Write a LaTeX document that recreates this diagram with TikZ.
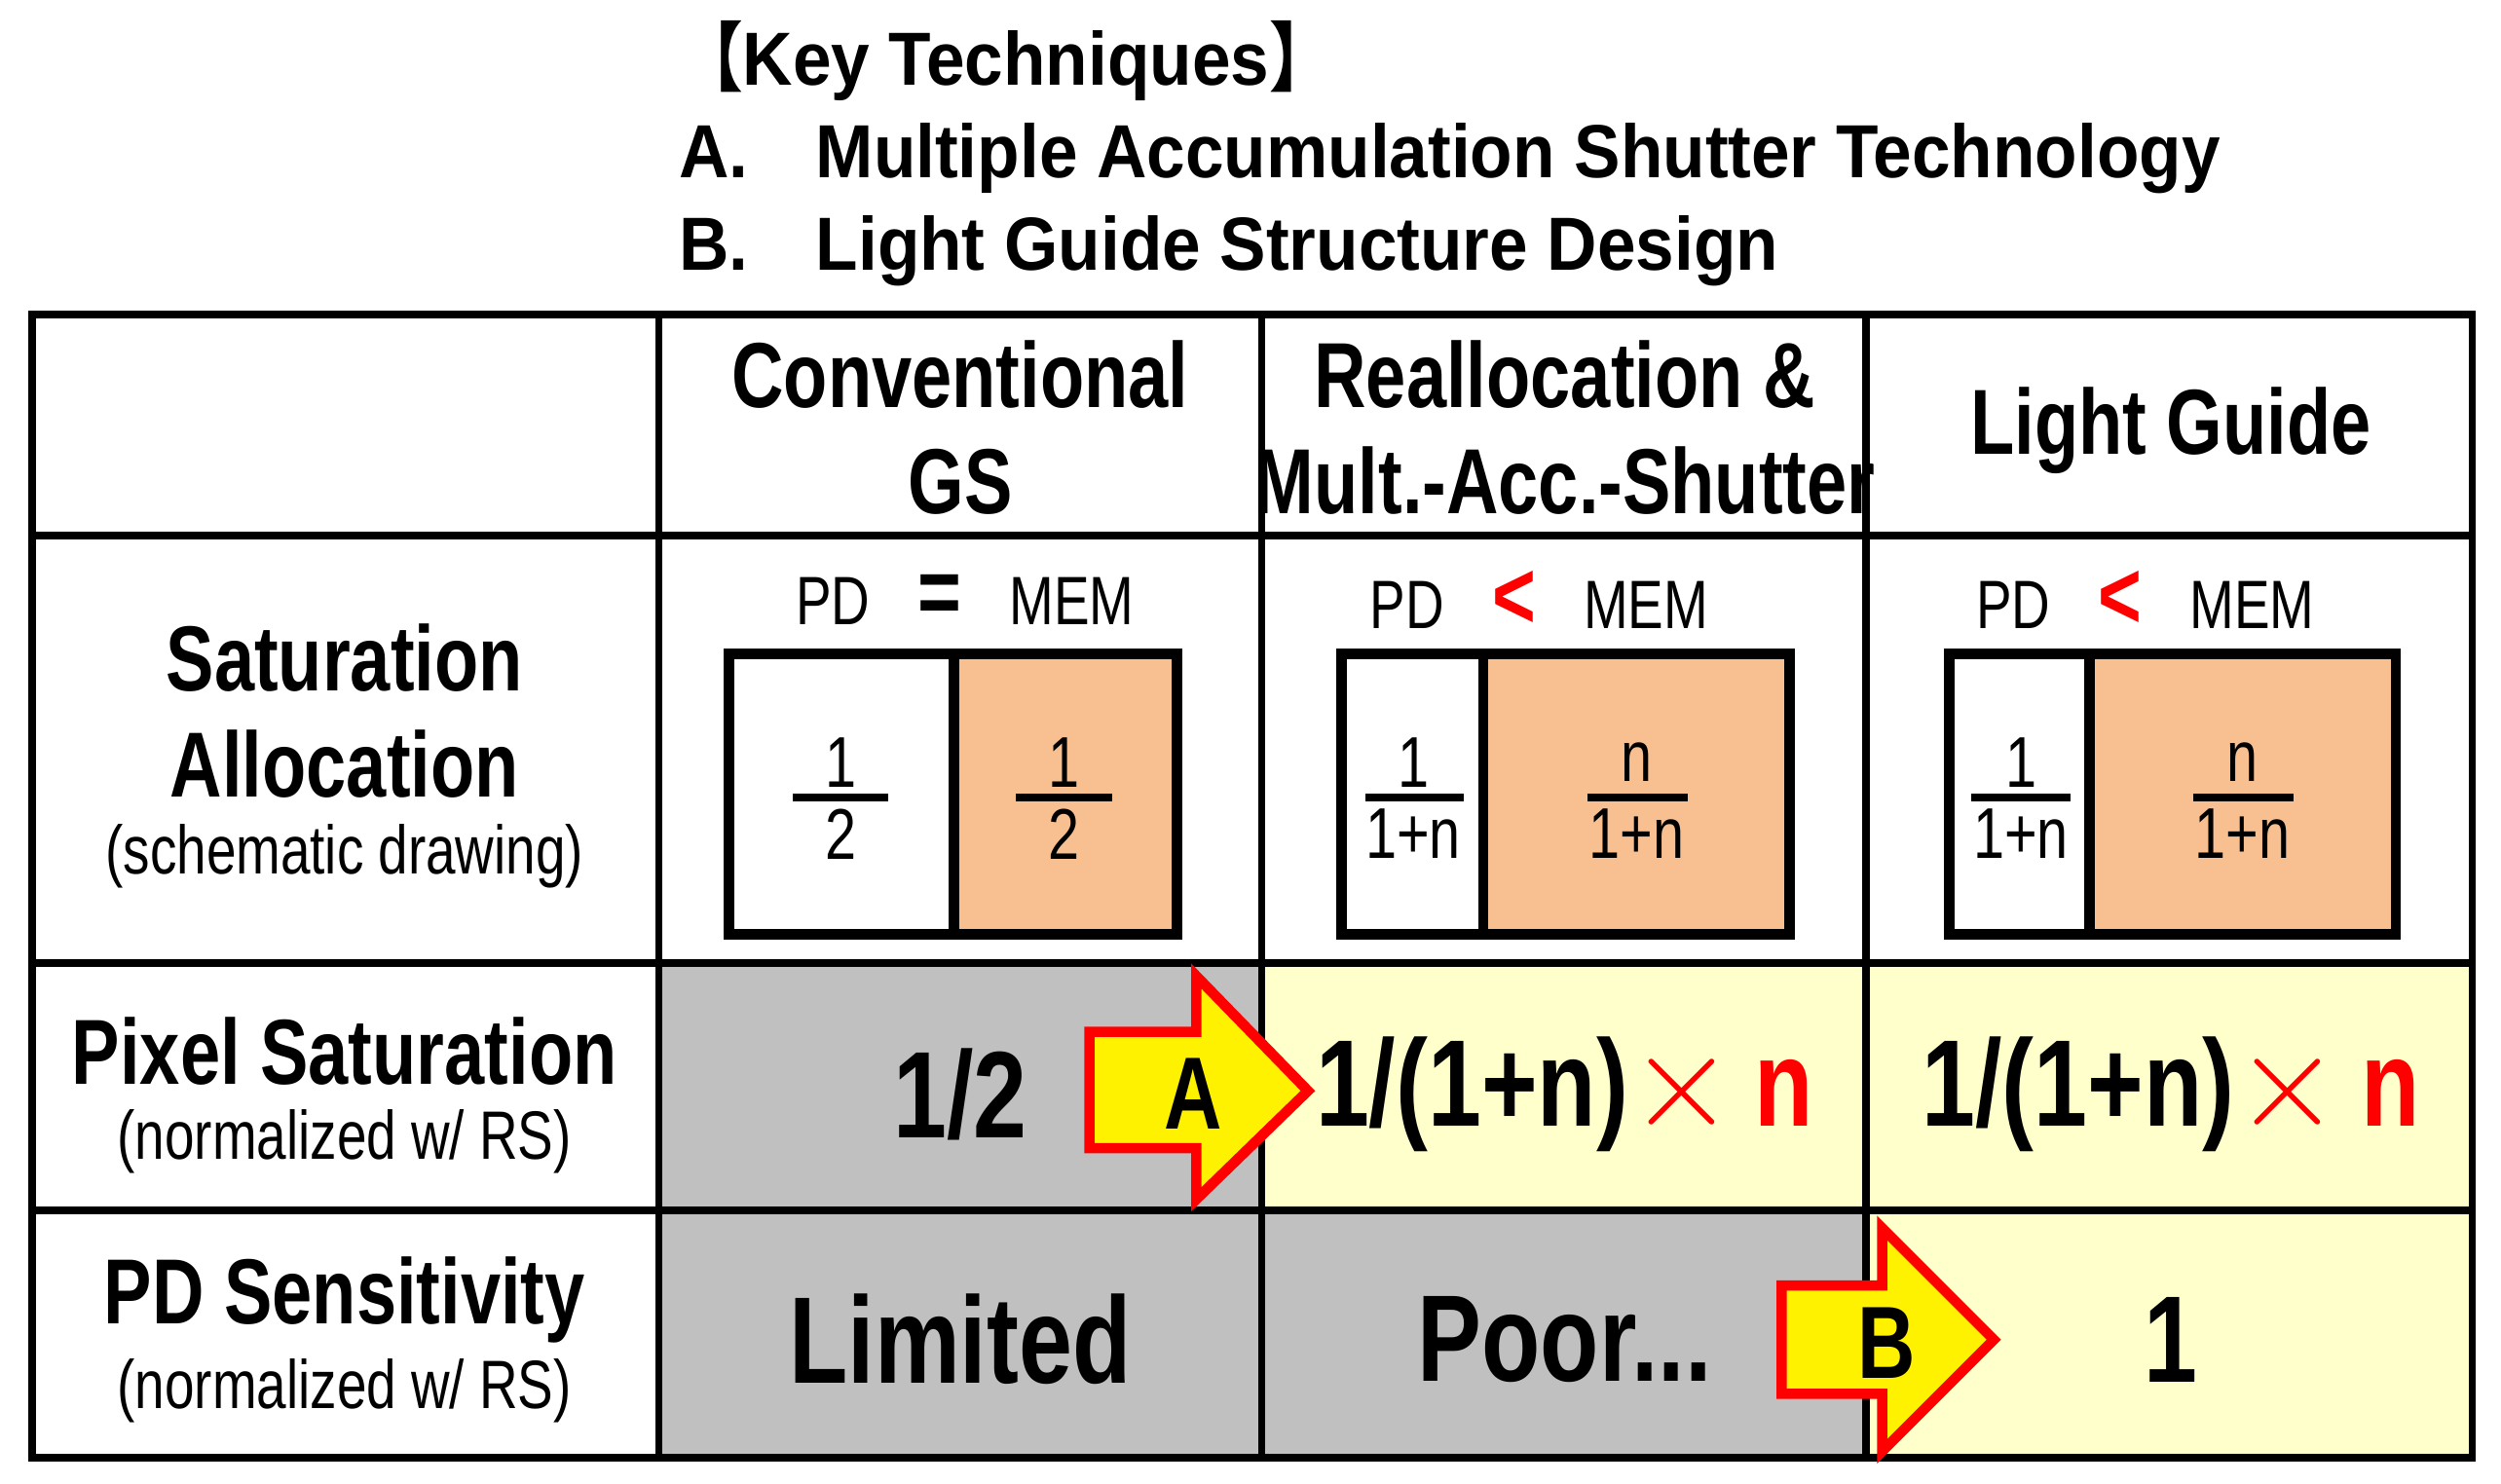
\documentclass[tikz,border=0pt]{standalone}
\usepackage{fontspec}
\setmainfont{Liberation Sans}[FakeStretch=0.78]
\newfontfamily\cjk{Noto Sans CJK JP}[FakeStretch=0.85]
\newfontfamily\wide{Liberation Sans}[FakeStretch=0.92]
\usetikzlibrary{positioning}
\definecolor{mem}{RGB}{248,192,144}
\definecolor{grayc}{RGB}{192,192,192}
\definecolor{yel}{RGB}{255,255,204}
\tikzset{
  grid/.style ={line width=2.2pt},
  head/.style ={font=\bfseries\fontsize{27}{31}\selectfont, align=center},
  lab/.style  ={font=\fontsize{20}{24}\selectfont, align=center},
  big/.style  ={font=\bfseries\fontsize{36}{40}\selectfont},
  frac/.style ={font=\fontsize{21}{24}\selectfont, inner sep=0pt},
  bar/.style  ={line width=2.2pt},
  box/.style  ={line width=3pt},
  tech/.style ={draw=red, line width=3pt, fill=yellow},
}
\newcommand{\cross}{\textcolor{red}{\scalebox{1.6}{$\times$}\,n}}
\begin{document}
\begin{tikzpicture}[x=0.01638cm, y=-0.01638cm]
  \useasboundingbox (0,0) rectangle (1568,930);
  % title
  \node[anchor=west, font=\wide\bfseries\fontsize{22}{27}\selectfont, align=left] (title) at (418,96)
    {{\cjk【}Key Techniques{\cjk】}\\A.\hspace{0.9em}Multiple Accumulation Shutter Technology\\B.\hspace{0.9em}Light Guide Structure Design};

  % cell fills
  \fill[grayc] (413,604) rectangle (791,759);
  \fill[yel] (791,604) rectangle (1550,759);
  \fill[grayc] (413,759) rectangle (1170,914);
  \fill[yel] (1170,759) rectangle (1550,914);
  % grid
  \draw[grid] (20,197) rectangle (1550,914);
  \foreach \x in {413,791,1170} \draw[grid] (\x,197) -- (\x,914);
  \foreach \y in {336,604,759} \draw[grid] (20,\y) -- (1550,\y);

  % header
  \node[head] (hconv) at (602,268) {Conventional\\GS};
  \node[head] (hmult) at (981,268) {Reallocation \&\\Mult.-Acc.-Shutter};
  \node[head] (hlg) at (1361,270) {Light Guide};

  % row labels
  \node[head, align=center] (rsat) at (216,446) {Saturation\\Allocation};
  \node[lab] (rsatn) at (216,537) {(schematic drawing)};
  \node[head] (rpix) at (216,659) {Pixel Saturation};
  \node[lab] (rpixn) at (216,716) {(normalized w/ RS)};
  \node[head] (rpd) at (216,815) {PD Sensitivity};
  \node[lab] (rpdn) at (216,872) {(normalized w/ RS)};

  % saturation allocation boxes
  \node[lab] (cmp1) at (605,376) {PD\hspace{0.7em}\textbf{\fontsize{28}{28}\selectfont =}\hspace{0.7em}MEM};
  \fill[mem] (598,410) rectangle (738,586);
  \draw[box] (457,410) rectangle (738,586);
  \draw[box] (598,410) -- (598,586);
  \node[frac] (n1a) at (527,478) {1};
  \node[frac] (d1a) at (527,523) {2};
  \draw[bar] (497,500) -- (557,500);
  \node[frac] (n1b) at (667,478) {1};
  \node[frac] (d1b) at (667,523) {2};
  \draw[bar] (637,500) -- (697,500);

  \node[lab] (cmp2) at (965,376) {PD\hspace{0.7em}\textcolor{red}{\textbf{\fontsize{28}{28}\selectfont <}}\hspace{0.7em}MEM};
  \fill[mem] (930,410) rectangle (1122,586);
  \draw[box] (841,410) rectangle (1122,586);
  \draw[box] (930,410) -- (930,586);
  \node[frac] (n2a) at (886,478) {1};
  \node[frac] (d2a) at (886,523) {1+n};
  \draw[bar] (856,500) -- (918,500);
  \node[frac] (n2b) at (1026,478) {n};
  \node[frac] (d2b) at (1026,523) {1+n};
  \draw[bar] (995,500) -- (1058,500);

  \node[lab] (cmp3) at (1345,376) {PD\hspace{0.7em}\textcolor{red}{\textbf{\fontsize{28}{28}\selectfont <}}\hspace{0.7em}MEM};
  \fill[mem] (1310,410) rectangle (1502,586);
  \draw[box] (1222,410) rectangle (1502,586);
  \draw[box] (1310,410) -- (1310,586);
  \node[frac] (n3a) at (1267,478) {1};
  \node[frac] (d3a) at (1267,523) {1+n};
  \draw[bar] (1236,500) -- (1298,500);
  \node[frac] (n3b) at (1406,478) {n};
  \node[frac] (d3b) at (1406,523) {1+n};
  \draw[bar] (1375,500) -- (1438,500);

  % pixel saturation
  \node[big] (p1) at (602,686) {1/2};
  \node[big] (p2) at (981,686) {1/(1+n)\cross};
  \node[big] (p3) at (1361,686) {1/(1+n)\cross};

  % pd sensitivity
  \node[big] (s1) at (602,840) {Limited};
  \node[big] (s2) at (981,840) {Poor...};
  \node[big] (s3) at (1361,840) {1};

  % technique arrows
  \draw[tech] (683,647) -- (750,647) -- (750,612) -- (820,684) -- (750,752) -- (750,720) -- (683,720) -- cycle;
  \node[font=\bfseries\fontsize{30}{30}\selectfont] (ta) at (748,686) {A};
  \draw[tech] (1117,806) -- (1180,806) -- (1180,770) -- (1250,840) -- (1180,910) -- (1180,874) -- (1117,874) -- cycle;
  \node[font=\bfseries\fontsize{30}{30}\selectfont] (tb) at (1183,842) {B};
\end{tikzpicture}
\end{document}
